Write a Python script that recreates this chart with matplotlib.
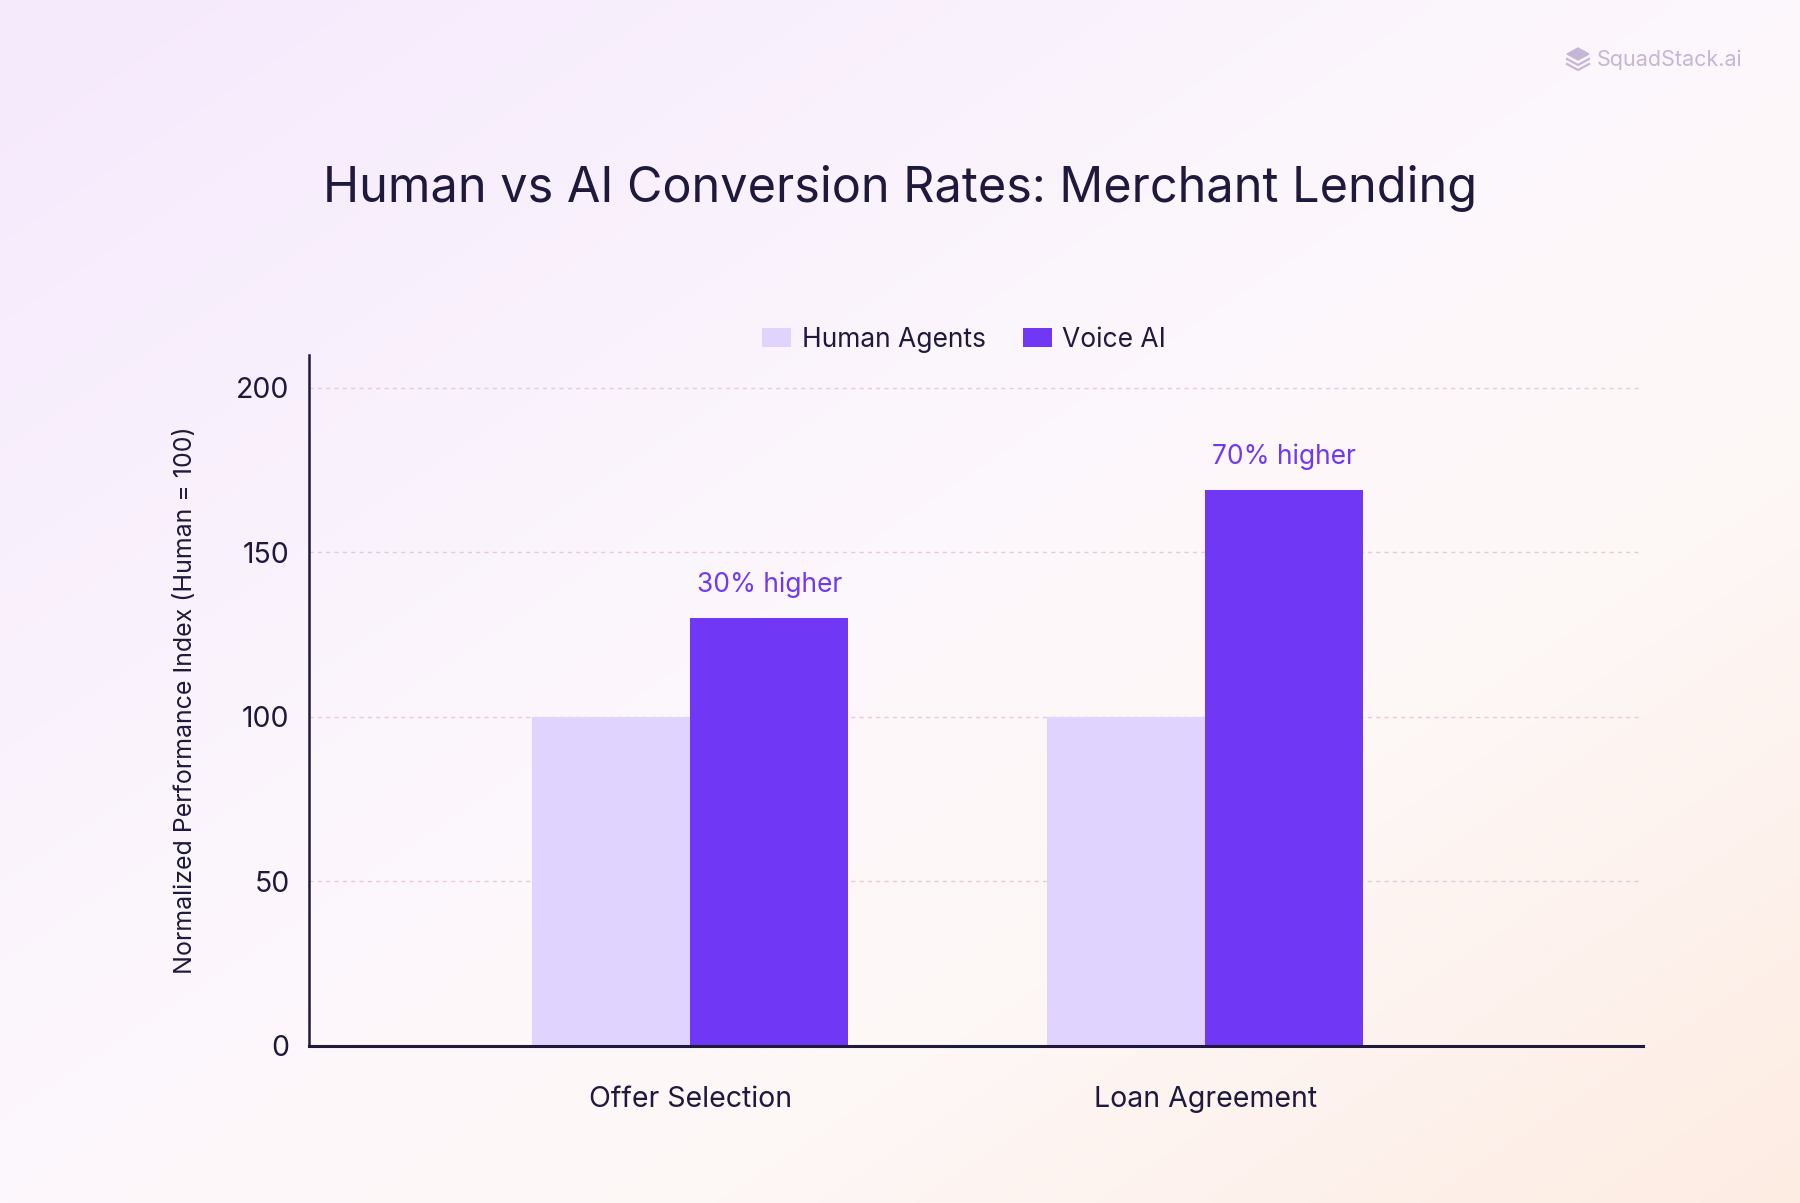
import numpy as np
import matplotlib
matplotlib.use("Agg")
import matplotlib.pyplot as plt
from matplotlib.patches import Polygon, Patch

plt.rcParams['font.family'] = ['Inter', 'DejaVu Sans']

# data
categories = ['Offer Selection', 'Loan Agreement']
human_agents = [100, 100]
voice_ai = [130, 169]
uplift_labels = ['30% higher', '70% higher']
y_ticks = [0, 50, 100, 150, 200]

DARK = '#1f1a3d'
HUMAN_C = '#e0d4fe'
AI_C = '#7038f5'
GRID_C = '#e8c9df'

W, H = 1800, 1203
fig = plt.figure(figsize=(18, 12.03), dpi=100)

# background gradient (lavender top-left -> white -> peach bottom-right)
bg = fig.add_axes([0, 0, 1, 1], zorder=-10)
gx, gy = np.meshgrid(np.linspace(0, 1, 360), np.linspace(0, 1, 240))
t = 0.5 * gx + 0.5 * gy
stops = np.array([0.0, 0.5, 0.7, 1.0])
cols = np.array([[245, 233, 253], [253, 248, 252], [253, 247, 246],
                 [253, 236, 226]]) / 255.0
img = np.dstack([np.interp(t, stops, cols[:, k]) for k in range(3)])
bg.imshow(img, extent=[0, W, H, 0], aspect='auto', interpolation='bilinear')
bg.set_xlim(0, W)
bg.set_ylim(H, 0)
bg.axis('off')

# logo icon (stack) + text
LOGO_C = '#c5b6d8'
bg.add_patch(Polygon([[1567, 54], [1578, 48], [1589, 54], [1578, 60]], closed=True,
                     facecolor=LOGO_C, edgecolor=LOGO_C, lw=1))
bg.plot([1567, 1578, 1589], [59, 65, 59], color=LOGO_C, lw=1.6)
bg.plot([1567, 1578, 1589], [64, 70, 64], color=LOGO_C, lw=1.6)
fig.text(0.8872, 1 - 60 / H, 'SquadStack.ai', fontsize=15.5, color=LOGO_C,
         ha='left', va='center')

# title
fig.text(0.5, 1 - 188 / H, 'Human vs AI Conversion Rates: Merchant Lending',
         fontsize=35, color=DARK, ha='center', va='center')

ax = fig.add_axes([309 / W, 1 - 1046 / H, (1643 - 309) / W, (1046 - 355) / H])
ax.patch.set_alpha(0)

x = np.arange(len(categories))
bw = 0.307
ax.bar(x - bw / 2, human_agents, bw, color=HUMAN_C, zorder=2, label='Human Agents')
ax.bar(x + bw / 2, voice_ai, bw, color=AI_C, zorder=2, label='Voice AI')

for xi, v, lab in zip(x, voice_ai, uplift_labels):
    ax.annotate(lab, (xi + bw / 2, v), xytext=(0, 24), textcoords='offset points',
                ha='center', va='center', fontsize=19, color=AI_C)

ax.set_xlim(-0.74, 1.85)
ax.set_ylim(0, 210)
ax.set_yticks(y_ticks)
ax.set_xticks(x)
ax.set_xticklabels(categories)
ax.tick_params(axis='both', length=0, labelsize=20.5, labelcolor=DARK)
ax.tick_params(axis='y', pad=14)
ax.tick_params(axis='x', pad=28.5)
for yv in y_ticks[1:]:
    ax.axhline(yv, color=GRID_C, lw=1, ls=(0, (3, 3)), zorder=1)

for s in ['top', 'right']:
    ax.spines[s].set_visible(False)
ax.spines['left'].set_color(DARK)
ax.spines['left'].set_linewidth(1.8)
ax.spines['bottom'].set_color(DARK)
ax.spines['bottom'].set_linewidth(2.2)
ax.spines['bottom'].set_zorder(3)

ax.set_ylabel('Normalized Performance Index (Human = 100)', fontsize=18,
              color=DARK, labelpad=28)

handles = [Patch(facecolor=HUMAN_C), Patch(facecolor=AI_C)]
fig.legend(handles, ['Human Agents', 'Voice AI'], loc='center',
           bbox_to_anchor=(0.5356, 1 - 340 / H), ncol=2, frameon=False,
           fontsize=19, handlelength=1.1, handleheight=0.75, handletextpad=0.4,
           columnspacing=1.4, borderpad=0, labelcolor=DARK)

fig.savefig('out.png', dpi=100)
